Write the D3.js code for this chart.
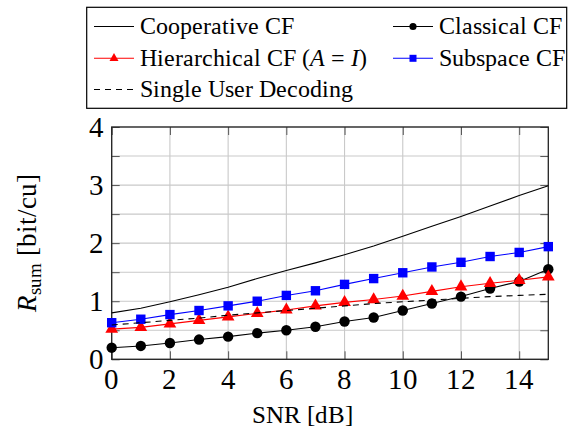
<!DOCTYPE html>
<html>
<head>
<meta charset="utf-8">
<script src="https://cdn.jsdelivr.net/npm/d3@7"></script>
<style>
  @font-face { font-family: "ChartSerif"; font-style: normal; font-weight: 400;
    src: local("Liberation Serif"), local("LiberationSerif"), local("LiberationSerif-Regular"), local("Tinos"), local("Tinos-Regular"); }
  @font-face { font-family: "ChartSerif"; font-style: italic; font-weight: 400;
    src: local("Liberation Serif Italic"), local("LiberationSerif-Italic"), local("Tinos Italic"), local("Tinos-Italic"); }
</style>
</head>
<body style="margin:0">
<svg id="chart" width="568" height="435"></svg>
<script>
// ---- data ----
const snr = [0, 1, 2, 3, 4, 5, 6, 7, 8, 9, 10, 11, 12, 13, 14, 15];
const cooperativeCF = [0.80, 0.88, 0.99, 1.11, 1.24, 1.39, 1.53, 1.66, 1.80, 1.95, 2.12, 2.29, 2.46, 2.64, 2.82, 2.99];
const classicalCF = [0.20, 0.23, 0.28, 0.34, 0.39, 0.45, 0.50, 0.56, 0.65, 0.72, 0.84, 0.96, 1.08, 1.22, 1.34, 1.55];
const hierarchicalCF = [0.52, 0.55, 0.61, 0.67, 0.73, 0.79, 0.85, 0.92, 0.98, 1.03, 1.09, 1.17, 1.25, 1.31, 1.36, 1.42];
const subspaceCF = [0.63, 0.69, 0.77, 0.84, 0.92, 1.00, 1.10, 1.18, 1.29, 1.39, 1.49, 1.59, 1.67, 1.77, 1.84, 1.94];
const singleUser = [0.59, 0.63, 0.67, 0.71, 0.76, 0.80, 0.84, 0.88, 0.92, 0.96, 0.99, 1.02, 1.05, 1.08, 1.10, 1.12];
const xTicks = [0, 2, 4, 6, 8, 10, 12, 14];
const yTicks = [0, 1, 2, 3, 4];
const yMinorTicks = [0.5, 1.5, 2.5, 3.5];
const seriesNames = ["Cooperative CF", "Classical CF", "Hierarchical CF", "Subspace CF", "Single User Decoding"];

const FONT = '"ChartSerif", "Liberation Serif"';

// ---- layout ----
const svg = d3.select("#chart");
const L = 111.7, R = 548.3, T = 127, B = 359.3;
const x = d3.scaleLinear().domain([0, 15]).range([L, R]);
const y = d3.scaleLinear().domain([0, 4]).range([B, T]);

// grid
const grid = svg.append("g");
xTicks.forEach(t => grid.append("line").attr("x1", x(t)).attr("x2", x(t)).attr("y1", T).attr("y2", B)
  .attr("stroke", "#c9c9c9").attr("stroke-width", 1.1));
yTicks.concat(yMinorTicks).forEach(t => grid.append("line").attr("x1", L).attr("x2", R).attr("y1", y(t)).attr("y2", y(t))
  .attr("stroke", "#c9c9c9").attr("stroke-width", 1.1));

// axes with inner ticks (labels drawn separately below)
const tickLen = 8;
const allY = yTicks.concat(yMinorTicks);
svg.append("g").attr("transform", `translate(0,${B})`)
  .call(d3.axisBottom(x).tickValues(xTicks).tickSize(-tickLen).tickFormat(""))
  .call(g => { g.select(".domain").remove(); g.selectAll("line").attr("stroke", "#555"); g.selectAll("text").remove(); });
svg.append("g").attr("transform", `translate(0,${T})`)
  .call(d3.axisTop(x).tickValues(xTicks).tickSize(-tickLen).tickFormat(""))
  .call(g => { g.select(".domain").remove(); g.selectAll("line").attr("stroke", "#555"); g.selectAll("text").remove(); });
svg.append("g").attr("transform", `translate(${L},0)`)
  .call(d3.axisLeft(y).tickValues(allY).tickSize(-tickLen).tickFormat(""))
  .call(g => { g.select(".domain").remove(); g.selectAll("line").attr("stroke", "#555"); g.selectAll("text").remove(); });
svg.append("g").attr("transform", `translate(${R},0)`)
  .call(d3.axisRight(y).tickValues(allY).tickSize(-tickLen).tickFormat(""))
  .call(g => { g.select(".domain").remove(); g.selectAll("line").attr("stroke", "#555"); g.selectAll("text").remove(); });

// tick labels
svg.append("g").selectAll("text").data(xTicks).join("text")
  .style("font-family", FONT).attr("font-size", 29).attr("text-anchor", "middle")
  .attr("x", d => x(d)).attr("y", B + 30).text(d => d);
svg.append("g").selectAll("text").data(yTicks).join("text")
  .style("font-family", FONT).attr("font-size", 29).attr("text-anchor", "end")
  .attr("x", L - 8).attr("y", d => y(d) + 10).text(d => d);

// frame
svg.append("rect").attr("x", L).attr("y", T).attr("width", R - L).attr("height", B - T)
  .attr("fill", "none").attr("stroke", "#222").attr("stroke-width", 1.3);

// lines
const line = d3.line().x((d, i) => x(snr[i])).y(d => y(d));
const plot = svg.append("g");
function drawLine(data, color, dash) {
  plot.append("path").attr("d", line(data)).attr("fill", "none").attr("stroke", color)
    .attr("stroke-width", 1.1).attr("stroke-dasharray", dash || null);
}
const triPath = (s) => d3.symbol().type(d3.symbolTriangle).size(s)();

drawLine(cooperativeCF, "#000");
drawLine(classicalCF, "#000");
plot.append("g").selectAll("circle").data(classicalCF).join("circle")
  .attr("cx", (d, i) => x(snr[i])).attr("cy", d => y(d)).attr("r", 5.2).attr("fill", "#000");
drawLine(hierarchicalCF, "#f00");
plot.append("g").selectAll("path").data(hierarchicalCF).join("path")
  .attr("d", triPath(70)).attr("transform", (d, i) => `translate(${x(snr[i])},${y(d)})`).attr("fill", "#f00");
drawLine(subspaceCF, "#00f");
plot.append("g").selectAll("rect").data(subspaceCF).join("rect")
  .attr("x", (d, i) => x(snr[i]) - 4.7).attr("y", d => y(d) - 4.7).attr("width", 9.4).attr("height", 9.4).attr("fill", "#00f");
drawLine(singleUser, "#000", "6,5");

// axis labels
svg.append("text").style("font-family", FONT).attr("x", 302).attr("y", 423).attr("text-anchor", "middle").attr("font-size", 25).text("SNR [dB]");
const yl = svg.append("text").style("font-family", FONT).attr("transform", `translate(36,${(T + B) / 2}) rotate(-90)`)
  .attr("text-anchor", "middle").attr("font-size", 27);
yl.append("tspan").attr("font-style", "italic").text("R");
yl.append("tspan").attr("font-size", 19).attr("dy", 5).text("sum");
yl.append("tspan").attr("dy", -5).text(" [bit/cu]");

// legend
const lg = svg.append("g");
lg.append("rect").attr("x", 86.7).attr("y", 7.3).attr("width", 480).attr("height", 101)
  .attr("fill", "#fff").attr("stroke", "#000").attr("stroke-width", 1.2);
const rows = [26.5, 58.3, 89.5];
const cols = [94, 393];
const entries = [
  { name: seriesNames[0], col: 0, row: 0, color: "#000", mark: null },
  { name: seriesNames[1], col: 1, row: 0, color: "#000", mark: "circle" },
  { name: "Hierarchical CF", col: 0, row: 1, color: "#f00", mark: "tri", math: true },
  { name: seriesNames[3], col: 1, row: 1, color: "#00f", mark: "square" },
  { name: seriesNames[4], col: 0, row: 2, color: "#000", mark: null, dash: "6,5" }
];
entries.forEach(e => {
  const x0 = cols[e.col], yy = rows[e.row];
  lg.append("line").attr("x1", x0).attr("x2", x0 + 40).attr("y1", yy).attr("y2", yy)
    .attr("stroke", e.color).attr("stroke-width", 1.1).attr("stroke-dasharray", e.dash || null);
  if (e.mark === "circle") lg.append("circle").attr("cx", x0 + 20).attr("cy", yy).attr("r", 3.6).attr("fill", e.color);
  if (e.mark === "square") lg.append("rect").attr("x", x0 + 16.5).attr("y", yy - 3.5).attr("width", 7).attr("height", 7).attr("fill", e.color);
  if (e.mark === "tri") lg.append("path").attr("d", triPath(35)).attr("transform", `translate(${x0 + 20},${yy})`).attr("fill", e.color);
  const t = lg.append("text").style("font-family", FONT).attr("x", x0 + 46).attr("y", yy + 7.5).attr("font-size", 24);
  t.append("tspan").text(e.name);
  if (e.math) {
    t.append("tspan").text(" (");
    t.append("tspan").attr("font-style", "italic").text("A");
    t.append("tspan").text(" = ");
    t.append("tspan").attr("font-style", "italic").text("I");
    t.append("tspan").text(")");
  }
});
</script>
</body>
</html>
